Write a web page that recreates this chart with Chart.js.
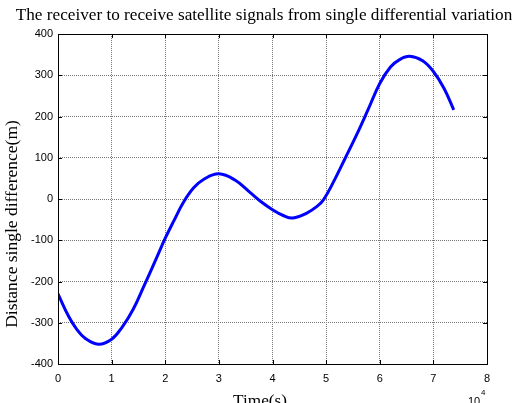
<!DOCTYPE html>
<html>
<head>
<meta charset="utf-8">
<script src="https://cdn.jsdelivr.net/npm/chart.js@4/dist/chart.umd.min.js"></script>
<style>
  html, body { margin: 0; padding: 0; background: #fff; }
  #wrap { width: 518px; height: 403px; }
</style>
</head>
<body>
<div id="wrap"><canvas id="chart" width="518" height="403"></canvas></div>
<script>
// time in units of 10^4 s, as on the axis
const TIMES = [0, 0.2, 0.35, 0.5, 0.75, 1.0, 1.2, 1.4, 1.6, 1.84, 2.0, 2.16, 2.34, 2.53, 2.72, 3.0,
  3.3, 3.58, 3.8, 4.0, 4.2, 4.38, 4.64, 4.83, 4.95, 5.14, 5.36, 5.57, 5.78, 6.0, 6.2, 6.37, 6.56, 6.8, 7.0, 7.2, 7.38];
const DIFFS = [-230, -285, -316, -337, -352, -340, -310, -268, -212, -142, -95, -53, -8, 27, 48, 61,
  46, 16, -8, -26, -40, -46, -34, -18, -2, 42, 100, 156, 216, 280, 320, 338, 346, 335, 309, 268, 216];
const X_TICKS = [0, 1, 2, 3, 4, 5, 6, 7, 8];
const Y_TICKS = [-400, -300, -200, -100, 0, 100, 200, 300, 400];

const TITLE = "The receiver to receive satellite signals from single differential variation";
const X_LABEL = "Time(s)";
const Y_LABEL = "Distance single difference(m)";

const points = TIMES.map((t, i) => ({ x: t, y: DIFFS[i] }));

// box, inward ticks and text like a matlab figure
const matlabBox = {
  id: "matlabBox",
  afterDraw(chart) {
    const ctx = chart.ctx;
    const a = chart.chartArea;
    const xs = chart.scales.x, ys = chart.scales.y;
    ctx.save();
    ctx.strokeStyle = "#000";
    ctx.lineWidth = 1;
    ctx.strokeRect(a.left + 0.5, a.top + 0.5, a.right - a.left, a.bottom - a.top);
    ctx.beginPath();
    X_TICKS.forEach(v => {
      const px = Math.round(xs.getPixelForValue(v)) + 0.5;
      ctx.moveTo(px, a.bottom); ctx.lineTo(px, a.bottom - 4);
      ctx.moveTo(px, a.top); ctx.lineTo(px, a.top + 4);
    });
    Y_TICKS.forEach(v => {
      const py = Math.round(ys.getPixelForValue(v)) + 0.5;
      ctx.moveTo(a.left, py); ctx.lineTo(a.left + 4, py);
      ctx.moveTo(a.right, py); ctx.lineTo(a.right - 4, py);
    });
    ctx.stroke();

    ctx.fillStyle = "#000";
    ctx.font = "17.2px 'Liberation Serif', 'Times New Roman', serif";
    ctx.textAlign = "center";
    ctx.textBaseline = "alphabetic";
    ctx.fillText(TITLE, 264, 20);

    ctx.textBaseline = "top";
    ctx.fillText(X_LABEL, 260, 393);

    ctx.save();
    ctx.translate(12, 224);
    ctx.rotate(-Math.PI / 2);
    ctx.textBaseline = "middle";
    ctx.font = "17.5px 'Liberation Serif', 'Times New Roman', serif";
    ctx.fillText(Y_LABEL, 0, 0);
    ctx.restore();

    ctx.font = "11px 'Liberation Sans', Arial, sans-serif";
    ctx.textAlign = "left";
    ctx.textBaseline = "top";
    ctx.fillText("10", 468, 396);
    ctx.font = "8px 'Liberation Sans', Arial, sans-serif";
    ctx.fillText("4", 481, 389);
    ctx.restore();
  }
};

new Chart(document.getElementById("chart"), {
  type: "line",
  data: {
    datasets: [{
      data: points,
      borderColor: "#0000ff",
      borderWidth: 3,
      pointRadius: 0,
      fill: false,
      tension: 0.4
    }]
  },
  options: {
    responsive: false,
    animation: false,
    layout: { padding: { top: 34, right: 31, left: 0, bottom: 0 } },
    plugins: { legend: { display: false }, tooltip: { enabled: false } },
    scales: {
      x: {
        type: "linear",
        min: 0, max: 8,
        afterFit(scale) { scale.height = 39; },
        afterBuildTicks(scale) { scale.ticks = X_TICKS.map(v => ({ value: v })); },
        ticks: {
          color: "#000",
          padding: 8,
          maxRotation: 0,
          font: { family: "'Liberation Sans', Arial, sans-serif", size: 11 }
        },
        grid: { color: "#777", drawTicks: false },
        border: { display: false, dash: [1, 1] }
      },
      y: {
        min: -400, max: 400,
        afterFit(scale) { scale.width = 58; },
        afterBuildTicks(scale) { scale.ticks = Y_TICKS.map(v => ({ value: v })); },
        ticks: {
          color: "#000",
          padding: 5,
          font: { family: "'Liberation Sans', Arial, sans-serif", size: 11 }
        },
        grid: { color: "#777", drawTicks: false },
        border: { display: false, dash: [1, 1] }
      }
    }
  },
  plugins: [matlabBox]
});
</script>
</body>
</html>
